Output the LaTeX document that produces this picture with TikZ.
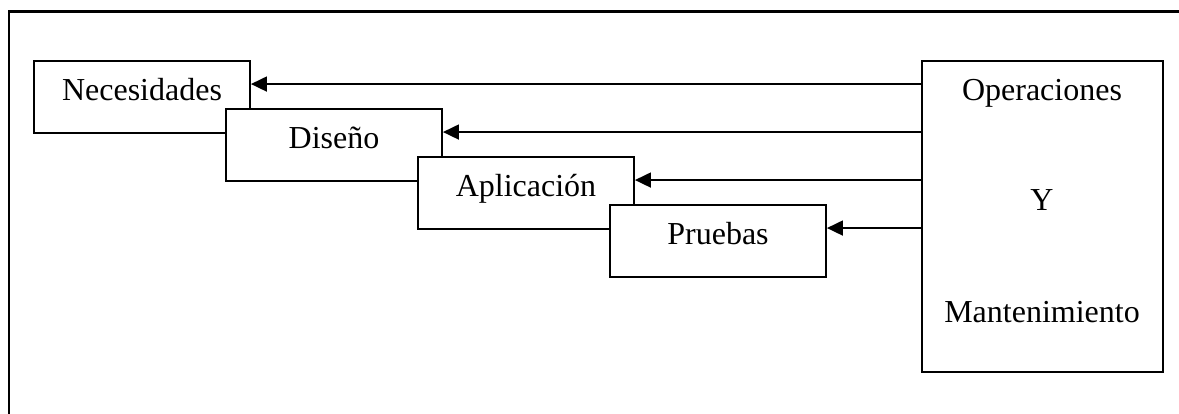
\documentclass[tikz,border=0pt]{standalone}
\usepackage{fontspec}
\setmainfont{Liberation Serif}
\usetikzlibrary{arrows.meta,calc}

\tikzset{
  phase/.style={draw, line width=1.9pt, fill=white, minimum width=216pt,
    minimum height=72pt, inner sep=0pt, text height=22pt, text depth=14pt,
    font=\fontsize{32}{37}\selectfont},
  opsbox/.style={draw, line width=1.9pt, minimum width=241pt,
    minimum height=311pt, inner sep=0pt},
  label/.style={anchor=base, inner sep=0pt, font=\fontsize{32}{37}\selectfont},
  feed/.style={line width=1.8pt, -{Triangle[length=16pt,width=15pt]}},
  frame/.style={line width=2.2pt}
}

\begin{document}
\begin{tikzpicture}[x=1pt, y=-1pt]
  \useasboundingbox (0,0) rectangle (1179,414);

  % open frame along the left and top edges
  \coordinate (fbl) at (9,414);
  \coordinate (ftl) at (9,11.5);
  \coordinate (ftr) at (1179,11.5);
  \draw[frame] (fbl) -- (ftl) -- (ftr);

  % staggered phase boxes, each one laid over the previous
  \node[phase] (nec) at (142,97)  {Necesidades};
  \node[phase] (dis) at (334,145) {Diseño};
  \node[phase] (apl) at (526,193) {Aplicación};
  \node[phase] (pru) at (718,241) {Pruebas};

  % operations and maintenance block
  \node[opsbox] (ops) at (1042.5,216.5) {};
  \node[label] (opA) at (1042,101) {Operaciones};
  \node[label] (opB) at (1042,211) {Y};
  \node[label] (opC) at (1042,323) {Mantenimiento};

  % feedback arrows into each phase
  \foreach \b in {nec,dis,apl,pru} {
    \coordinate (\b-in) at ($(\b.north east)+(0,24)$);
    \draw[feed] (ops.west |- \b-in) -- (\b-in);
  }
\end{tikzpicture}
\end{document}
